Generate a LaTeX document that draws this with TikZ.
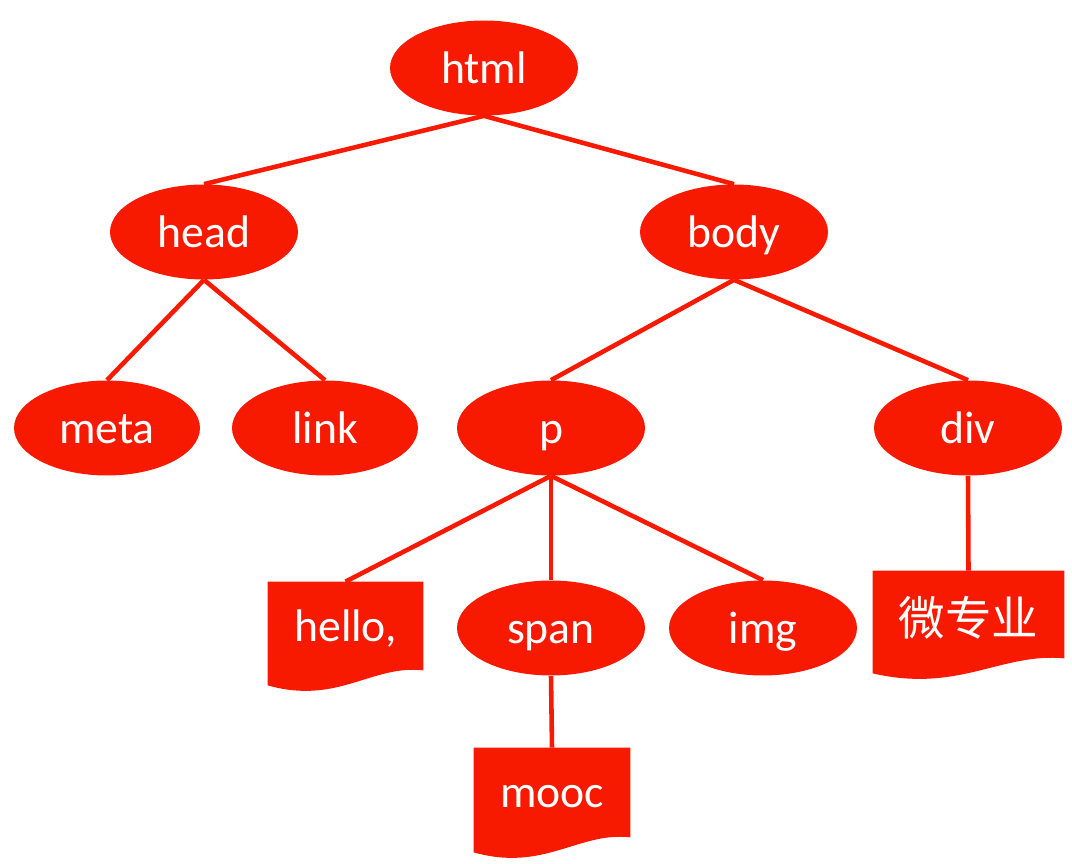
\documentclass[tikz,border=0pt]{standalone}
\usepackage{fontspec}
\setmainfont{Carlito}
\newfontfamily\cjk{Noto Sans CJK SC}
\usetikzlibrary{shapes.geometric,calc}
\definecolor{treered}{RGB}{248,26,0}
\begin{document}
\begin{tikzpicture}[x={(0.02cm,0)},y={(0,-0.02cm)},
  el/.style={ellipse,fill=treered,text=white,inner sep=0pt,minimum width=3.76cm,minimum height=1.9cm,font=\fontsize{26}{30}\selectfont,text height=19pt,text depth=1.5pt},
  docbox/.style={rectangle,inner sep=0pt,text=white,font=\fontsize{26}{30}\selectfont},
  doctext/.style={docbox,text height=19pt,text depth=1.5pt},
  conn/.style={draw=treered,line width=2.6pt}]
\useasboundingbox (0,0) rectangle (1072,864);
\node[el] (html) at (484,68) {html};
\node[el] (head) at (204,232) {head};
\node[el] (body) at (734,232) {body};
\node[el,minimum width=3.72cm] (meta) at (107,428) {meta};
\node[el,minimum width=3.72cm] (link) at (325,428) {link};
\node[el] (p) at (551,428) {p};
\node[el] (div) at (968,428) {div};
\node[el] (span) at (551,628) {span};
\node[el] (img) at (763,628) {img};
% documents
\node[docbox,minimum width=3.1cm,minimum height=1.76cm] (hello) at (345.5,626) {};
\node[docbox,minimum width=3.82cm,minimum height=1.74cm] (wzy) at (968.5,614.5) {};
\node[docbox,minimum width=3.12cm,minimum height=1.78cm] (mooc) at (552,792.5) {};
\foreach \d/\w/\dl in {hello/155/15,wzy/191/15,mooc/156/15}{
  \fill[treered] (\d.north west) -- (\d.north east) -- (\d.south east)
    .. controls ($(\d.south east)+(-0.33*\w,-6)$) and ($(\d.south west)+(0.45*\w,\dl+20)$) .. ($(\d.south west)+(0,\dl)$) -- cycle;
}
\node[doctext] at (hello) {hello,};
\node[doctext,font=\cjk\fontsize{26.5}{30}\selectfont,yshift=-3pt] at (wzy) {微专业};
\node[doctext] at (mooc) {mooc};
% connectors
\draw[conn] (html.south) -- (head.north);
\draw[conn] (html.south) -- (body.north);
\draw[conn] (head.south) -- (meta.north);
\draw[conn] (head.south) -- (link.north);
\draw[conn] (body.south) -- (p.north);
\draw[conn] (body.south) -- (div.north);
\draw[conn] (p.south) -- (hello.north);
\draw[conn] (p.south) -- (span.north);
\draw[conn] (p.south) -- (img.north);
\draw[conn] (div.south) -- (wzy.north);
\draw[conn] (span.south) -- (mooc.north);
\end{tikzpicture}
\end{document}
